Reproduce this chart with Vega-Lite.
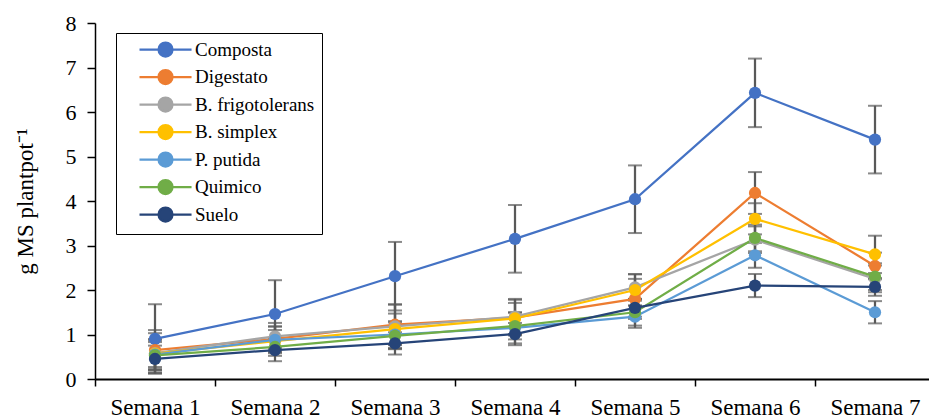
{
  "$schema": "https://vega.github.io/schema/vega-lite/v6.json",
  "autosize": "none",
  "width": 840,
  "height": 356,
  "padding": {"left": 95, "top": 23, "right": 0, "bottom": 39},
  "background": "white",
  "data": {"values": [
    {"serie": "Composta", "semana": "Semana 1", "valor": 0.90, "err": 0.78},
    {"serie": "Composta", "semana": "Semana 2", "valor": 1.46, "err": 0.76},
    {"serie": "Composta", "semana": "Semana 3", "valor": 2.31, "err": 0.77},
    {"serie": "Composta", "semana": "Semana 4", "valor": 3.15, "err": 0.76},
    {"serie": "Composta", "semana": "Semana 5", "valor": 4.04, "err": 0.76},
    {"serie": "Composta", "semana": "Semana 6", "valor": 6.43, "err": 0.77},
    {"serie": "Composta", "semana": "Semana 7", "valor": 5.38, "err": 0.76},
    {"serie": "Digestato", "semana": "Semana 1", "valor": 0.65, "err": 0.45},
    {"serie": "Digestato", "semana": "Semana 2", "valor": 0.90, "err": 0.28},
    {"serie": "Digestato", "semana": "Semana 3", "valor": 1.22, "err": 0.45},
    {"serie": "Digestato", "semana": "Semana 4", "valor": 1.38, "err": 0.40},
    {"serie": "Digestato", "semana": "Semana 5", "valor": 1.80, "err": 0.45},
    {"serie": "Digestato", "semana": "Semana 6", "valor": 4.18, "err": 0.47},
    {"serie": "Digestato", "semana": "Semana 7", "valor": 2.54, "err": 0.30},
    {"serie": "B. frigotolerans", "semana": "Semana 1", "valor": 0.58, "err": 0.45},
    {"serie": "B. frigotolerans", "semana": "Semana 2", "valor": 0.96, "err": 0.30},
    {"serie": "B. frigotolerans", "semana": "Semana 3", "valor": 1.18, "err": 0.50},
    {"serie": "B. frigotolerans", "semana": "Semana 4", "valor": 1.40, "err": 0.40},
    {"serie": "B. frigotolerans", "semana": "Semana 5", "valor": 2.06, "err": 0.30},
    {"serie": "B. frigotolerans", "semana": "Semana 6", "valor": 3.13, "err": 0.30},
    {"serie": "B. frigotolerans", "semana": "Semana 7", "valor": 2.25, "err": 0.30},
    {"serie": "B. simplex", "semana": "Semana 1", "valor": 0.57, "err": 0.30},
    {"serie": "B. simplex", "semana": "Semana 2", "valor": 0.85, "err": 0.25},
    {"serie": "B. simplex", "semana": "Semana 3", "valor": 1.12, "err": 0.35},
    {"serie": "B. simplex", "semana": "Semana 4", "valor": 1.36, "err": 0.35},
    {"serie": "B. simplex", "semana": "Semana 5", "valor": 2.00, "err": 0.35},
    {"serie": "B. simplex", "semana": "Semana 6", "valor": 3.60, "err": 0.35},
    {"serie": "B. simplex", "semana": "Semana 7", "valor": 2.80, "err": 0.42},
    {"serie": "P. putida", "semana": "Semana 1", "valor": 0.55, "err": 0.35},
    {"serie": "P. putida", "semana": "Semana 2", "valor": 0.88, "err": 0.30},
    {"serie": "P. putida", "semana": "Semana 3", "valor": 1.00, "err": 0.30},
    {"serie": "P. putida", "semana": "Semana 4", "valor": 1.15, "err": 0.35},
    {"serie": "P. putida", "semana": "Semana 5", "valor": 1.40, "err": 0.25},
    {"serie": "P. putida", "semana": "Semana 6", "valor": 2.78, "err": 0.28},
    {"serie": "P. putida", "semana": "Semana 7", "valor": 1.50, "err": 0.25},
    {"serie": "Quimico", "semana": "Semana 1", "valor": 0.53, "err": 0.30},
    {"serie": "Quimico", "semana": "Semana 2", "valor": 0.72, "err": 0.20},
    {"serie": "Quimico", "semana": "Semana 3", "valor": 0.97, "err": 0.30},
    {"serie": "Quimico", "semana": "Semana 4", "valor": 1.19, "err": 0.30},
    {"serie": "Quimico", "semana": "Semana 5", "valor": 1.50, "err": 0.30},
    {"serie": "Quimico", "semana": "Semana 6", "valor": 3.17, "err": 0.30},
    {"serie": "Quimico", "semana": "Semana 7", "valor": 2.30, "err": 0.30},
    {"serie": "Suelo", "semana": "Semana 1", "valor": 0.45, "err": 0.30},
    {"serie": "Suelo", "semana": "Semana 2", "valor": 0.65, "err": 0.25},
    {"serie": "Suelo", "semana": "Semana 3", "valor": 0.80, "err": 0.25},
    {"serie": "Suelo", "semana": "Semana 4", "valor": 1.01, "err": 0.25},
    {"serie": "Suelo", "semana": "Semana 5", "valor": 1.60, "err": 0.20},
    {"serie": "Suelo", "semana": "Semana 6", "valor": 2.10, "err": 0.26},
    {"serie": "Suelo", "semana": "Semana 7", "valor": 2.07, "err": 0.20}
  ]},
  "encoding": {
    "x": {"field": "semana", "type": "nominal", "sort": null,
      "scale": {"type": "band", "paddingInner": 0, "paddingOuter": 0},
      "axis": {"title": null, "labelAngle": 0, "labelFontSize": 23, "labelPadding": 10, "tickBand": "extent", "tickSize": 7, "domainWidth": 2}},
    "y": {"field": "valor", "type": "quantitative",
      "scale": {"domain": [0, 8], "nice": false},
      "axis": {"title": "g MS plantpot⁻¹", "titleFontSize": 23, "titleFontWeight": "normal", "titlePadding": 28, "labelFontSize": 22, "labelPadding": 11, "tickSize": 8, "values": [0,1,2,3,4,5,6,7,8]}}
  },
  "layer": [
    {
      "mark": {"type": "errorbar", "ticks": {"size": 14, "thickness": 2, "color": "#595959"}, "rule": {"strokeWidth": 2.25, "color": "#595959"}},
      "encoding": {"yError": {"field": "err"}, "detail": {"field": "serie"}}
    },
    {
      "mark": {"type": "line", "strokeWidth": 2.25},
      "encoding": {
        "color": {"field": "serie", "type": "nominal",
          "sort": ["Composta", "Digestato", "B. frigotolerans", "B. simplex", "P. putida", "Quimico", "Suelo"],
          "scale": {"domain": ["Composta", "Digestato", "B. frigotolerans", "B. simplex", "P. putida", "Quimico", "Suelo"], "range": ["#4472C4", "#ED7D31", "#A5A5A5", "#FFC000", "#5B9BD5", "#70AD47", "#264478"]}}
      }
    },
    {
      "mark": {"type": "point", "filled": true, "size": 150, "opacity": 1},
      "encoding": {
        "color": {"field": "serie", "type": "nominal",
          "sort": ["Composta", "Digestato", "B. frigotolerans", "B. simplex", "P. putida", "Quimico", "Suelo"],
          "scale": {"domain": ["Composta", "Digestato", "B. frigotolerans", "B. simplex", "P. putida", "Quimico", "Suelo"], "range": ["#4472C4", "#ED7D31", "#A5A5A5", "#FFC000", "#5B9BD5", "#70AD47", "#264478"]}}
      }
    }
  ],
  "resolve": {"legend": {"color": "shared"}},
  "config": {
    "view": {"stroke": null},
    "font": "Liberation Serif",
    "axis": {"grid": false, "domainColor": "#000000", "tickColor": "#000000", "domainWidth": 1.5, "tickWidth": 1.5, "labelColor": "#000000", "titleColor": "#000000", "labelFont": "Liberation Serif", "titleFont": "Liberation Serif"},
    "legend": {
      "title": null, "orient": "none", "legendX": 21, "legendY": 10,
      "strokeColor": "#000000", "fillColor": "#ffffff", "padding": 7,
      "labelFontSize": 19, "labelFont": "Liberation Serif", "labelColor": "#000000",
      "symbolSize": 200, "symbolStrokeWidth": 2.25,
      "symbolType": "M0.99,0L3.68,0M5.66,0L8.35,0M3.68,0A0.99,0.99 0 1,0 5.66,0A0.99,0.99 0 1,0 3.68,0Z",
      "labelOffset": 53, "rowPadding": 2.5, "labelLimit": 300
    }
  }
}
